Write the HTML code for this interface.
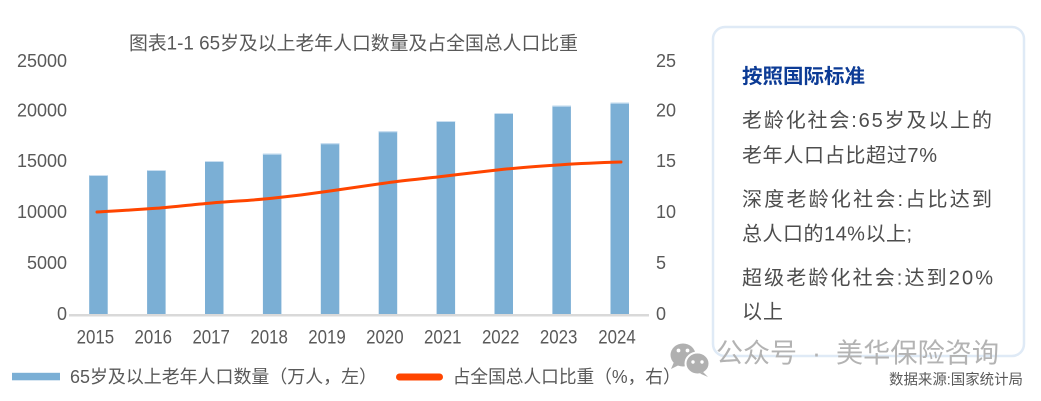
<!DOCTYPE html>
<html>
<head>
<meta charset="utf-8">
<style>
  html,body{margin:0;padding:0;background:#fff;}
  body{width:1041px;height:401px;overflow:hidden;}
  svg{display:block;}
  text{font-family:"Liberation Sans","Noto Sans CJK SC",sans-serif;}
</style>
</head>
<body>
<svg width="1041" height="401" viewBox="0 0 1041 401" xmlns="http://www.w3.org/2000/svg">
  <rect x="0" y="0" width="1041" height="401" fill="#ffffff"/>

  <!-- Title -->
  <text x="129" y="44" font-size="19" fill="#595959" dominant-baseline="central" textLength="449" lengthAdjust="spacingAndGlyphs">图表1-1 65岁及以上老年人口数量及占全国总人口比重</text>

  <!-- Left axis ticks -->
  <g font-size="18" fill="#595959" text-anchor="end" dominant-baseline="central">
    <text x="67" y="61">25000</text>
    <text x="67" y="110.5">20000</text>
    <text x="67" y="161">15000</text>
    <text x="67" y="212">10000</text>
    <text x="67" y="263">5000</text>
    <text x="67" y="314">0</text>
  </g>
  <!-- Right axis ticks -->
  <g font-size="18" fill="#595959" dominant-baseline="central">
    <text x="656" y="61">25</text>
    <text x="656" y="110.5">20</text>
    <text x="656" y="161">15</text>
    <text x="656" y="212">10</text>
    <text x="656" y="263">5</text>
    <text x="656" y="314">0</text>
  </g>

  <!-- Bars -->
  <g fill="#7BAFD5">
    <rect x="89.2" y="175" width="18.5" height="140"/>
    <rect x="147.1" y="170" width="18.5" height="145"/>
    <rect x="205" y="161" width="18.5" height="154"/>
    <rect x="262.9" y="153.7" width="18.5" height="161.3"/>
    <rect x="320.8" y="143.3" width="18.5" height="171.7"/>
    <rect x="378.7" y="131.3" width="18.5" height="183.7"/>
    <rect x="436.6" y="121" width="18.5" height="194"/>
    <rect x="494.5" y="113" width="18.5" height="202"/>
    <rect x="552.4" y="105.7" width="18.5" height="209.3"/>
    <rect x="610.5" y="102.7" width="18.5" height="212.3"/>
  </g>
  <g fill="#c9def0">
    <rect x="89.2" y="175" width="18.5" height="1"/>
    <rect x="147.1" y="170" width="18.5" height="1"/>
    <rect x="205" y="161" width="18.5" height="1"/>
    <rect x="262.9" y="153.7" width="18.5" height="1"/>
    <rect x="320.8" y="143.3" width="18.5" height="1"/>
    <rect x="378.7" y="131.3" width="18.5" height="1"/>
    <rect x="436.6" y="121" width="18.5" height="1"/>
    <rect x="494.5" y="113" width="18.5" height="1"/>
    <rect x="552.4" y="105.7" width="18.5" height="1"/>
    <rect x="610.5" y="102.7" width="18.5" height="1"/>
  </g>

  <!-- Axis line -->
  <rect x="69" y="314" width="580" height="2.5" fill="#d9d9d9"/>

  <!-- Line series -->
  <path d="M97,212 C117,210.8 136,209.8 156.3,208.3 C176,206.6 195,204.4 214.2,202.7 C234,201 253,200.4 272.1,198.3 C292,196.2 311,193.8 330,191 C350,188 369,185.5 387.9,182.7 C407,179.9 427,178.4 445.8,176 C465,173.6 484,171.5 503.7,169.3 C523,167.2 542,166 561.6,164.7 C581,163.4 601,162.6 621,162"
        fill="none" stroke="#FF4500" stroke-width="3" stroke-linecap="round" stroke-linejoin="round"/>

  <!-- X labels -->
  <g font-size="19" fill="#595959" text-anchor="middle" dominant-baseline="central">
    <text x="95.4" y="338" textLength="37.5" lengthAdjust="spacingAndGlyphs">2015</text>
    <text x="153.3" y="338" textLength="37.5" lengthAdjust="spacingAndGlyphs">2016</text>
    <text x="211.2" y="338" textLength="37.5" lengthAdjust="spacingAndGlyphs">2017</text>
    <text x="269.1" y="338" textLength="37.5" lengthAdjust="spacingAndGlyphs">2018</text>
    <text x="327" y="338" textLength="37.5" lengthAdjust="spacingAndGlyphs">2019</text>
    <text x="384.9" y="338" textLength="37.5" lengthAdjust="spacingAndGlyphs">2020</text>
    <text x="442.8" y="338" textLength="37.5" lengthAdjust="spacingAndGlyphs">2021</text>
    <text x="500.7" y="338" textLength="37.5" lengthAdjust="spacingAndGlyphs">2022</text>
    <text x="558.6" y="338" textLength="37.5" lengthAdjust="spacingAndGlyphs">2023</text>
    <text x="617" y="338" textLength="37.5" lengthAdjust="spacingAndGlyphs">2024</text>
  </g>

  <!-- Legend -->
  <rect x="12" y="372.8" width="48" height="7.5" fill="#7BAFD5"/>
  <text x="70" y="377" font-size="18" fill="#595959" dominant-baseline="central" textLength="307" lengthAdjust="spacingAndGlyphs">65岁及以上老年人口数量（万人，左）</text>
  <line x1="399.5" y1="377" x2="439.5" y2="377" stroke="#FF4500" stroke-width="7" stroke-linecap="round"/>
  <text x="452.7" y="377" font-size="18" fill="#595959" dominant-baseline="central" textLength="228" lengthAdjust="spacingAndGlyphs">占全国总人口比重（%，右）</text>

  <!-- Right panel -->
  <rect x="713" y="27" width="311" height="329" rx="12" ry="12" fill="#ffffff" stroke="#dfeaf6" stroke-width="2.5"/>
  <text x="742" y="77" font-size="20" font-weight="bold" fill="#0c3b95" dominant-baseline="central" textLength="123" lengthAdjust="spacingAndGlyphs">按照国际标准</text>
  <g font-size="20" fill="#4d4d4d" dominant-baseline="central">
    <text x="742" y="121" textLength="250" lengthAdjust="spacing">老龄化社会:65岁及以上的</text>
    <text x="742" y="155.8" textLength="195" lengthAdjust="spacing">老年人口占比超过7%</text>
    <text x="742" y="200" textLength="250" lengthAdjust="spacing">深度老龄化社会:占比达到</text>
    <text x="742" y="234.3" textLength="170" lengthAdjust="spacing">总人口的14%以上;</text>
    <text x="742" y="278.3" textLength="251" lengthAdjust="spacing">超级老龄化社会:达到20%</text>
    <text x="742" y="312.5" textLength="41" lengthAdjust="spacing">以上</text>
  </g>

  <!-- Watermark -->
  <g>
    <ellipse cx="683" cy="355" rx="12.5" ry="11.5" fill="#b0b0b0"/>
    <path d="M674,362 L671,369 L679,365 Z" fill="#b0b0b0"/>
    <circle cx="678.5" cy="350.5" r="1.9" fill="#ffffff"/>
    <circle cx="687.5" cy="350.5" r="1.9" fill="#ffffff"/>
    <ellipse cx="697.5" cy="363.5" rx="12" ry="11" fill="#b0b0b0" stroke="#ffffff" stroke-width="2"/>
    <path d="M703,372 L708,377 L700,373.5 Z" fill="#b0b0b0"/>
    <circle cx="693" cy="362" r="1.7" fill="#ffffff"/>
    <circle cx="702" cy="362" r="1.7" fill="#ffffff"/>
  </g>
  <g font-size="27" fill="#b3b3b3" dominant-baseline="central">
    <text x="716" y="353.5" textLength="81" lengthAdjust="spacingAndGlyphs">公众号</text>
    <text x="816.5" y="353.5" text-anchor="middle">·</text>
    <text x="836" y="353.5" textLength="163" lengthAdjust="spacingAndGlyphs">美华保险咨询</text>
  </g>
  <text x="889" y="380.5" font-size="14.5" fill="#595959" dominant-baseline="central" textLength="134" lengthAdjust="spacingAndGlyphs">数据来源:国家统计局</text>
</svg>
</body>
</html>
